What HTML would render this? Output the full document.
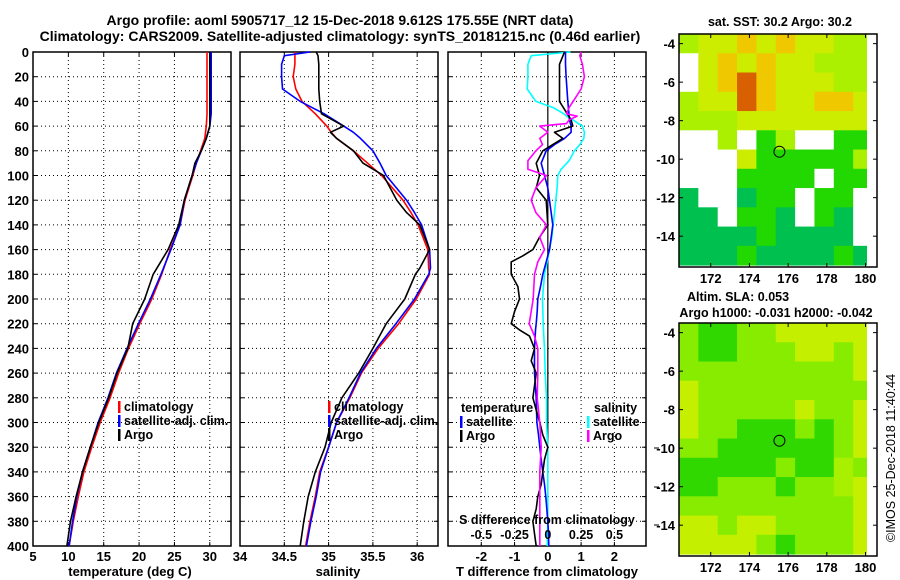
<!DOCTYPE html>
<html><head><meta charset="utf-8"><style>
html,body{margin:0;padding:0;background:#fff;}
svg{display:block;font-family:"Liberation Sans",sans-serif;font-weight:bold;}
</style></head><body>
<svg id="fig" width="900" height="580" viewBox="0 0 900 580" xmlns="http://www.w3.org/2000/svg">
<text x="340" y="25" font-size="14" text-anchor="middle">Argo profile: aoml 5905717_12 15-Dec-2018 9.612S 175.55E (NRT data)</text>
<text x="340" y="41" font-size="14" text-anchor="middle">Climatology: CARS2009. Satellite-adjusted climatology: synTS_20181215.nc (0.46d earlier)</text>
<g id="plots"></g>
</svg>
<script>
// ---- depth axis ----
const depthTicks=[0,20,40,60,80,100,120,140,160,180,200,220,240,260,280,300,320,340,360,380,400];
// ---- temperature panel ----
const tDepth=[0,20,40,50,60,70,80,90,100,120,140,160,180,200,220,240,260,280,300,320,340,360,380,400];
const tClim=[29.6,29.6,29.6,29.6,29.5,29.3,28.7,28.1,27.6,26.5,25.8,24.4,23.2,21.8,20.1,18.5,17.1,15.9,14.5,13.3,12.2,11.4,10.7,10.1];
const tSat =[30.2,30.2,30.2,30.2,30.0,29.5,28.8,28.1,27.5,26.4,25.8,24.5,23.1,21.6,19.9,18.3,16.8,15.6,14.2,13.1,12.0,11.2,10.6,10.1];
const tArgo=[30.0,30.0,30.0,30.0,30.0,29.5,28.8,27.9,27.5,26.4,25.6,24.1,22.0,20.8,19.1,18.4,16.9,15.7,14.3,13.1,12.0,11.1,10.3,9.8];
const tTicks=[5,10,15,20,25,30];
// ---- salinity panel ----
const sDepth=[0,3,10,20,30,40,50,60,65,70,80,90,100,120,130,140,160,175,180,200,220,240,260,280,300,320,340,360,380,400];
const sClim=[34.62,34.62,34.62,34.60,34.63,34.70,34.85,34.98,35.03,35.09,35.28,35.44,35.60,35.84,35.93,36.01,36.12,36.13,36.14,35.99,35.79,35.56,35.37,35.24,35.09,35.00,34.90,34.85,34.79,34.74];
const sSat =[34.79,34.50,34.47,34.47,34.48,34.68,34.95,35.17,35.28,35.36,35.50,35.58,35.65,35.88,35.97,36.05,36.14,36.15,36.13,35.97,35.76,35.54,35.36,35.23,35.09,35.00,34.91,34.86,34.80,34.75];
const sArgo=[34.86,34.88,34.89,34.89,34.89,34.90,34.92,35.17,35.02,35.09,35.28,35.39,35.62,35.77,35.88,36.03,36.14,36.03,35.98,35.86,35.65,35.50,35.34,35.15,35.03,34.96,34.85,34.77,34.72,34.68];
const sTicks=[34,34.5,35,35.5,36];
// ---- difference panel ----
const dDepthT=[0,10,20,40,55,60,65,70,75,80,90,100,110,120,140,150,160,165,170,180,190,200,210,220,225,230,240,250,260,280,290,300,310,320,330,340,350,360,370,380,390,400];
const dSatT =[0.53,0.53,0.55,0.6,0.65,0.7,0.7,0.5,0.2,-0.05,-0.2,-0.1,0.0,0.05,0.15,0.1,0.05,0.0,-0.05,-0.15,-0.22,-0.3,-0.32,-0.35,-0.37,-0.38,-0.4,-0.4,-0.4,-0.35,-0.34,-0.33,-0.28,-0.24,-0.2,-0.15,-0.1,-0.06,-0.03,0.0,0.02,0.03];
const dArgoT=[0.5,0.35,0.35,0.35,0.7,0.75,0.2,0.45,0.15,-0.15,-0.35,-0.25,-0.35,-0.05,0.0,-0.25,-0.45,-0.75,-1.1,-1.1,-0.9,-0.85,-1.0,-1.1,-0.85,-0.55,-0.4,-0.5,-0.35,-0.45,-0.35,-0.24,-0.15,0.0,-0.1,-0.15,-0.2,-0.3,-0.35,-0.45,-0.4,-0.35];
const dDepthS=[0,3,10,20,30,40,45,50,52,55,58,60,65,70,75,80,88,95,100,110,120,130,140,150,160,170,180,200,220,230,240,260,280,300,320,340,360,380,400];
const dSatS =[0.17,-0.125,-0.15,-0.15,-0.155,-0.09,0.04,0.12,0.14,0.19,0.23,0.26,0.275,0.27,0.24,0.2,0.16,0.1,0.075,0.07,0.06,0.05,0.04,0.03,0.0125,-0.005,-0.025,-0.04,-0.035,-0.03,-0.025,-0.02,-0.01,-0.01,0.0,0.0,0.0,0.0,-0.005];
const dArgoS=[0.25,0.24,0.26,0.275,0.25,0.19,0.16,0.14,0.22,0.16,0.14,-0.06,0.0,-0.06,-0.04,-0.09,-0.15,-0.15,-0.01,-0.09,-0.125,-0.09,-0.01,-0.06,-0.025,-0.075,-0.1,-0.11,-0.14,-0.1,-0.075,-0.075,-0.08,-0.06,-0.05,-0.06,-0.06,-0.06,-0.06];
const dTTicks=[-2,-1,0,1,2];
const dSTicks=[-0.5,-0.25,0,0.25,0.5];
const dSTickLabels=["-0.5","-0.25","0","0.25","0.5"];
// ---- maps (1-degree cells, rows from -3.5 southward, cols from 170.4 eastward) ----
const sstGrid=["lyyoyoyyll","wyoyoyylll","wyoroyyyll","lyyroyyooy","lllyyyyyyy","wwlwglwwgg","wwwygggggl","wwwggggwgg","dwwdggwggw","ddwggdwgdw","ddddgddddw","dddgddddgd"];
const slaGrid=["mggmmyyyyy","mggmmmyymy","mmmmmmmmmy","ymmmmmmmmm","ymmmmmymmy","ymmgggmgmy","mmggggggmy","gggggmgglm","ggmmmgmmly","mmmmmmmmmy","yymyymmmmy","yyyymgmmmy"];
const latTicks=[-4,-6,-8,-10,-12,-14];
const lonTicks=[172,174,176,178,180];
const argoLon=175.55, argoLat=-9.612;

const NS="http://www.w3.org/2000/svg";
const root=document.getElementById('plots');
function el(tag,attrs,parent,txt){const e=document.createElementNS(NS,tag);for(const k in attrs)e.setAttribute(k,attrs[k]);if(txt!==undefined)e.textContent=txt;(parent||root).appendChild(e);return e;}
const TOP=52,BOT=546;
const yD=d=>TOP+d*(BOT-TOP)/400;

function panel(name,x0,x1,vmin,vmax,ticks,labels,xlabel,showDepth){
  const g=el('g',{});
  
  
  const sx=v=>x0+(v-vmin)*(x1-x0)/(vmax-vmin);
  depthTicks.forEach(d=>{
    if(d>0&&d<400){const l=el('line',{x1:x0,x2:x1,y1:yD(d),y2:yD(d),stroke:'#000','stroke-dasharray':'1,3'},g);}
    el('line',{x1:x0,x2:x0+4,y1:yD(d),y2:yD(d),stroke:'#000'},g);
    el('line',{x1:x1-4,x2:x1,y1:yD(d),y2:yD(d),stroke:'#000'},g);
    if(showDepth){const t=el('text',{x:x0-4,y:yD(d)+5,'font-size':13,'text-anchor':'end'},g,String(d));}
  });
  ticks.forEach((v,i)=>{
    const x=sx(v);
    if(x>x0+1&&x<x1-1&&xlabel!=='diff'){const l=el('line',{x1:x,x2:x,y1:TOP,y2:BOT,stroke:'#000','stroke-dasharray':'1,3'},g);}
    el('line',{x1:x,x2:x,y1:BOT,y2:BOT-4,stroke:'#000'},g);
    el('line',{x1:x,x2:x,y1:TOP,y2:TOP+4,stroke:'#000'},g);
    const t=el('text',{x:x,y:561,'font-size':13,'text-anchor':'middle'},g,labels[i]);
    
    
  });
  const r=el('rect',{x:x0,y:TOP,width:x1-x0,height:BOT-TOP,fill:'none',stroke:'#000','stroke-width':1.5},g);
  
  
  return {g,sx};
}
function line(g,sx,depths,vals,color,name,w){
  const pts=depths.map((d,i)=>sx(vals[i]).toFixed(1)+','+yD(d).toFixed(1)).join(' ');
  const p=el('polyline',{points:pts,fill:'none',stroke:color,'stroke-width':w||1.6,'stroke-linejoin':'round'},g);
  
  
}
function legend(g,x,y,items){
  items.forEach((it,i)=>{
    el('rect',{x:x,y:y+i*14-10,width:2.5,height:12,fill:it[1]},g);
    const t=el('text',{x:x+6,y:y+i*14,'font-size':12.5},g,it[0]);
    
    
  });
}

// temperature
const P1=panel('temperature-panel',33,231,5,33,tTicks,tTicks.map(String),'t',true);
line(P1.g,P1.sx,tDepth,tClim,'#f00','temp-climatology-line');
line(P1.g,P1.sx,tDepth,tSat,'#00f','temp-satellite-line');
line(P1.g,P1.sx,tDepth,tArgo,'#000','temp-argo-line');
legend(P1.g,118,411,[['climatology','#f00'],['satellite-adj. clim.','#00f'],['Argo','#000']]);
el('text',{x:130,y:576,'font-size':13,'text-anchor':'middle'},P1.g,'temperature (deg C)');

// salinity
const P2=panel('salinity-panel',240,438,34,36.235,sTicks,sTicks.map(String),'s',false);
line(P2.g,P2.sx,sDepth,sClim,'#f00','sal-climatology-line');
line(P2.g,P2.sx,sDepth,sSat,'#00f','sal-satellite-line');
line(P2.g,P2.sx,sDepth,sArgo,'#000','sal-argo-line');
legend(P2.g,328,411,[['climatology','#f00'],['satellite-adj. clim.','#00f'],['Argo','#000']]);
el('text',{x:338,y:576,'font-size':13,'text-anchor':'middle'},P2.g,'salinity');

// difference
const P3=panel('difference-panel',448,646,-3,2.95,dTTicks,dTTicks.map(String),'diff',false);
dTTicks.forEach(v=>{const x=P3.sx(v);if(v!==0){const l=el('line',{x1:x,x2:x,y1:TOP,y2:BOT,stroke:'#000','stroke-dasharray':'1,3'},P3.g);}});
el('line',{x1:P3.sx(0),x2:P3.sx(0),y1:TOP,y2:BOT,stroke:'#000','stroke-width':1.2},P3.g);
const sxS=v=>P3.sx(v*4);
line(P3.g,sxS,dDepthS,dSatS,'#0ff','sdiff-satellite-line');
line(P3.g,P3.sx,dDepthT,dSatT,'#00f','tdiff-satellite-line');
line(P3.g,P3.sx,dDepthT,dArgoT,'#000','tdiff-argo-line');
line(P3.g,sxS,dDepthS,dArgoS,'#f0f','sdiff-argo-line');
el('text',{x:461,y:412,'font-size':12.5},P3.g,'temperature');
legend(P3.g,460,426,[['satellite','#00f'],['Argo','#000']]);
el('text',{x:594,y:412,'font-size':12.5},P3.g,'salinity');
legend(P3.g,587,426,[['satellite','#0ff'],['Argo','#f0f']]);
el('text',{x:547,y:524,'font-size':12.5,'text-anchor':'middle'},P3.g,'S difference from climatology');
dSTicks.forEach((v,i)=>{const t=el('text',{x:sxS(v),y:539,'font-size':12.5,'text-anchor':'middle'},P3.g,dSTickLabels[i]);});
el('text',{x:547,y:576,'font-size':13,'text-anchor':'middle'},P3.g,'T difference from climatology');
[448,487,525].forEach(y=>el('line',{x1:654,x2:659,y1:y,y2:y,stroke:'#000'}));

// maps
const sstCol={l:'#aaf000',y:'#ccec00',o:'#f0c800',r:'#d86000',g:'#22d800',d:'#00c050',w:'#ffffff'};
const slaCol={m:'#88ec00',g:'#30d800',y:'#c4f000',l:'#a8f000'};
function map(name,top,grid,cols,titleLines){
  const g=el('g',{});
  
  
  const L=679,R=877,B=top+233,lon0=170.36,lat0=-3.5;
  const px=19.35, py=233/12.1;
  const mx=lon=>L+(lon-lon0)*px, my=lat=>top+(lat0-lat)*py;
  const dataR=mx(180.05);
  grid.forEach((row,r)=>{[...row].forEach((c,ci)=>{
    const x=L+ci*px, y=top+r*py;
    const w=Math.min(px,dataR-x);
    if(w>0){const rc=el('rect',{x:x,y:y,width:w+0.5,height:Math.min(py,B-y)+0.5,fill:cols[c]},g);}
  });});
  el('rect',{x:L,y:top,width:R-L,height:233,fill:'none',stroke:'#000','stroke-width':1.5},g);
  latTicks.forEach(v=>{const y=my(v);el('line',{x1:L,x2:L+4,y1:y,y2:y,stroke:'#000'},g);el('line',{x1:R-4,x2:R,y1:y,y2:y,stroke:'#000'},g);
    const t=el('text',{x:L-4,y:y+5,'font-size':13,'text-anchor':'end'},g,String(v));});
  lonTicks.forEach(v=>{const x=mx(v);el('line',{x1:x,x2:x,y1:B,y2:B-4,stroke:'#000'},g);el('line',{x1:x,x2:x,y1:top,y2:top+4,stroke:'#000'},g);
    const t=el('text',{x:x,y:B+16,'font-size':13,'text-anchor':'middle'},g,String(v));});
  const c=el('circle',{cx:mx(argoLon),cy:my(argoLat),r:5.5,fill:'none',stroke:'#000','stroke-width':1},g);
  
  
  titleLines.forEach(tl=>{const t=el('text',{x:tl[1],y:tl[2],'font-size':12.5,'text-anchor':'middle'},g,tl[0]);});
}
map('sst-map',34,sstGrid,sstCol,[['sat. SST: 30.2 Argo: 30.2',780,26]]);
map('sla-map',323,slaGrid,slaCol,[['Altim. SLA: 0.053',738,301],['Argo h1000: -0.031 h2000: -0.042',776,317]]);
const cp=el('text',{x:0,y:0,'font-size':12.5,'font-weight':'normal','text-anchor':'middle',transform:'translate(895,458) rotate(-90)'},root,'©IMOS 25-Dec-2018 11:40:44');


</script>
</body></html>
